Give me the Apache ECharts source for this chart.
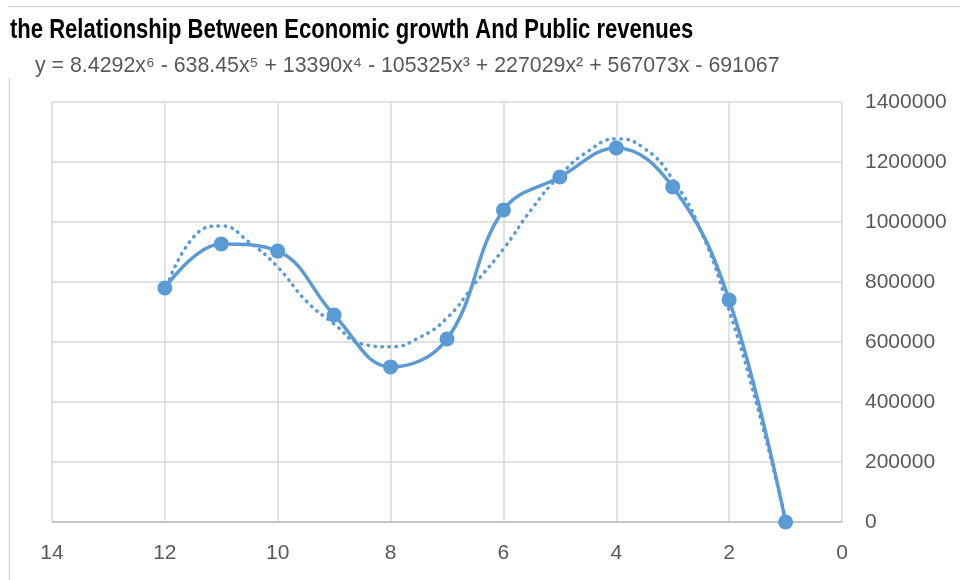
<!DOCTYPE html>
<html>
<head>
<meta charset="utf-8">
<title>Economic growth and public revenues</title>
<script src="https://cdn.jsdelivr.net/npm/echarts@6/dist/echarts.min.js"></script>
<style>
  html, body { margin: 0; padding: 0; background: #fff; }
  #chart { width: 960px; height: 580px; }
</style>
</head>
<body>
<div id="chart"></div>
<script>
// observed points (x = period index, y = public revenues)
const xValues = [12, 11, 10, 9, 8, 7, 6, 5, 4, 3, 2, 1]
const revenues = [780000, 927000, 903000, 690000, 517000, 610000, 1040000, 1150000, 1247000, 1117000, 740000, 0]

// 6th order polynomial trendline
const trendX = [12, 11.5, 11, 10.5, 10, 9.5, 9, 8.5, 8, 7.5, 7, 6.5, 6, 5.5, 5, 4.5, 4, 3.5, 3, 2.5, 2, 1.5, 1]
const trendY = [765000, 948000, 987000, 932000, 850000, 738000, 660000, 593000, 584000, 614000, 680000, 796000, 910000, 1043000, 1155000, 1236000, 1277000, 1245000, 1142000, 970000, 705000, 384000, 10000]

const xTicks = [0, 2, 4, 6, 8, 10, 12, 14]
const yTicks = [0, 200000, 400000, 600000, 800000, 1000000, 1200000, 1400000]

const titleText = 'the Relationship Between Economic growth And Public revenues'
const equationText = 'y = 8.4292x⁶ - 638.45x⁵ + 13390x⁴ - 105325x³ + 227029x² + 567073x - 691067'

const blue = '#5B9BD5'
const gridGray = '#D9D9D9'
const labelGray = '#595959'
const font = "'Liberation Sans', Arial, sans-serif"

const chart = echarts.init(document.getElementById('chart'))

const option = {
  animation: false,
  backgroundColor: '#fff',
  graphic: [
    // chart area border (top and left edges)
    { type: 'line', shape: { x1: 8, y1: 6.5, x2: 960, y2: 6.5 }, style: { stroke: gridGray, lineWidth: 1.5 } },
    { type: 'line', shape: { x1: 9.5, y1: 78, x2: 9.5, y2: 580 }, style: { stroke: gridGray, lineWidth: 1.5 } },
    // title, squeezed to look like a condensed bold face
    {
      type: 'text',
      x: 10,
      y: 30,
      scaleX: 0.787,
      style: {
        text: titleText,
        font: 'bold 28px ' + font,
        fill: '#000',
        textVerticalAlign: 'middle'
      }
    },
    // trendline equation
    {
      type: 'text',
      x: 35,
      y: 66,
      scaleX: 0.97,
      style: {
        text: equationText,
        font: '22px ' + font,
        fill: labelGray,
        textVerticalAlign: 'middle'
      }
    }
  ],
  grid: {
    left: 52,
    right: 118,
    top: 102,
    bottom: 58
  },
  xAxis: {
    type: 'value',
    inverse: true,
    min: xTicks[0],
    max: xTicks[xTicks.length - 1],
    interval: 2,
    axisLine: { show: true, lineStyle: { color: '#BFBFBF', width: 1.5 } },
    axisTick: { show: false },
    axisLabel: {
      margin: 21,
      fontFamily: font,
      fontSize: 21,
      color: labelGray
    },
    splitLine: { show: true, lineStyle: { color: gridGray, width: 1.5 } }
  },
  yAxis: {
    type: 'value',
    position: 'right',
    min: yTicks[0],
    max: yTicks[yTicks.length - 1],
    interval: 200000,
    axisLine: { show: false },
    axisTick: { show: false },
    axisLabel: {
      margin: 23,
      fontFamily: font,
      fontSize: 21,
      color: labelGray,
      formatter: v => String(v)
    },
    splitLine: { show: true, lineStyle: { color: gridGray, width: 1.5 } }
  },
  series: [
    {
      name: 'trend',
      type: 'line',
      smooth: 0.5,
      showSymbol: false,
      data: trendX.map((x, i) => [x, trendY[i]]),
      lineStyle: { color: blue, width: 3.5, type: [0.5, 6.5], cap: 'round' },
      z: 2
    },
    {
      name: 'revenues',
      type: 'line',
      smooth: 0.4,
      symbol: 'circle',
      symbolSize: 15,
      data: xValues.map((x, i) => [x, revenues[i]]),
      itemStyle: { color: blue },
      lineStyle: { color: blue, width: 3.5 },
      z: 3
    }
  ]
}

chart.setOption(option)
window.addEventListener('resize', () => chart.resize())
</script>
</body>
</html>
